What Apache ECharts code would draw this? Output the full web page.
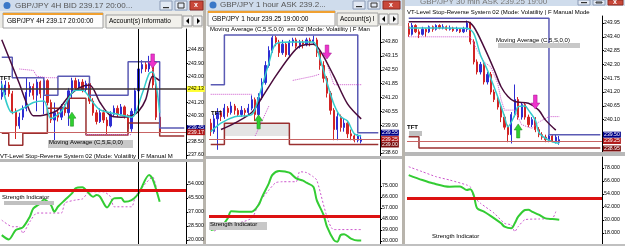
<!DOCTYPE html>
<html>
<head>
<meta charset="utf-8">
<script src="https://cdn.jsdelivr.net/npm/echarts@6/dist/echarts.min.js"></script>
<style>
html,body{margin:0;padding:0;background:#d4d0c8;}
#chart{width:625px;height:246px;}
</style>
</head>
<body>
<div id="chart"></div>
<script>
// ---- panel 1 : GBP/JPY 4H ----
var p1Cats = Array.from({length: 53}, function (_, i) { return i; });
var p1Candles = [
  [241.6,241.9,241.4,242.7],[241.9,242.4,241.7,242.7],[242.4,241.8,241.6,242.6],[241.8,240.6,240.4,242.0],
  [240.6,239.6,238.7,240.8],[239.6,240.2,239.4,240.5],[240.2,240.8,240.0,241.0],[240.8,241.9,240.6,242.9],
  [241.9,242.3,241.6,242.6],[242.3,241.7,241.4,242.5],[241.7,242.6,240.6,242.8],[242.6,241.8,241.5,242.7],
  [241.8,242.7,240.4,242.9],[242.7,241.2,241.0,242.8],[241.2,240.0,239.8,241.4],[240.0,240.5,238.5,241.2],
  [240.5,240.2,239.9,240.8],[240.2,240.9,240.0,241.1],[240.9,240.5,240.3,241.1],[240.5,242.0,239.6,242.2],
  [242.0,242.7,241.5,242.9],[242.7,242.2,242.0,242.9],[242.2,242.6,242.0,242.8],[242.6,242.1,241.9,242.8],
  [242.1,242.5,241.9,242.7],[242.5,241.3,241.1,242.6],[241.3,240.5,240.3,241.5],[240.5,239.9,239.7,240.7],
  [239.9,240.5,239.8,240.8],[240.5,240.0,239.8,240.7],[240.0,239.6,239.0,240.2],[239.6,240.4,239.5,240.6],
  [240.4,240.8,240.2,241.0],[240.8,240.4,240.2,241.0],[240.4,240.9,240.3,241.1],[240.9,240.3,240.1,241.0],
  [240.3,239.4,239.1,240.4],[239.4,240.6,239.2,240.8],[240.6,242.0,240.4,242.2],[242.0,243.5,241.8,243.7],
  [243.5,243.8,243.2,244.1],[243.8,243.5,243.3,244.0],[243.5,244.0,243.3,244.4],[244.0,242.4,242.2,244.1],
  [242.4,240.2,240.0,242.6],[240.2,239.17,239.0,240.4]
];
var p1FastMA = [[0,242.5],[3,240.5],[6,240.8],[9,241.2],[12,241.3],[14,240.1],[17,240.6],[21,242.05],[23,242.05],
  [26,241.2],[28,240.7],[31,240.5],[33,240.4],[37,240.2],[40,241.8],[42,243.2],[43,243.3],[45,240.5]];
var p1SlowMA = [[0,245.5],[5,242.5],[7,241.2],[9,240.3],[11,240.3],[13,240.4],[16,240.7],[19,241.6],[22,242.2],
  [25,242.4],[28,241.2],[31,240.3],[34,240.2],[37,240.3],[39,240.6],[41,241.4],[43,243.0],[45,242.7]];
var p1Trail = [[5,243.5],[9,243.4],[10,243.0],[13,242.9],[16,242.9],[17,'-'],[24,239.0],[37,239.0],[38,'-'],
  [42,244.0],[43,243.5],[44,242.3]];
var p1UpperStop = [[0,244.3],[3,242.9],[12,241.7],[16,243.0],[25,241.7],[36,244.0],[45,239.45],[52,239.45]];
var p1LowerStop = [[0,239.1],[2,238.27],[6,239.1],[13,240.8],[19,241.5],[24,238.97],[36,239.8],[45,238.9],[52,238.9]];
var p1Strength = [[0,23],[2,20.4],[4,26.1],[6,27.7],[8,34.2],[9,39.2],[11,42.3],[12,44.7],[14,41.3],[15,37.2],
  [16,40.2],[18,44.3],[20,48.3],[21,51.4],[23,52],[24,50.4],[26,46.3],[27,47.3],[28,46.3],[30,39.8],[32,45.3],
  [34,45.5],[35,43.3],[37,44.3],[39,48.3],[42,59.5],[43,57],[45,43.3]];
var p1Signal = [[0,32.1],[3,28.1],[5,28.1],[6,24.2],[8,31.1],[10,36.4],[14,36.4],[17,36.4],[18,42.5],[21,44.3],
  [23,45],[25,49.3],[29,49.3],[31,46.3],[32,40.2],[37,40.2],[38,46.3],[39,49.3],[41,54.4],[43,58.4],[44,52.4]];
var p1PriceTicks = [237.6, 238.5, 240.3, 241.2, 243.0, 243.9, 244.8];
var p1StrengthTicks = [20, 28.5, 37, 45.5, 54];
var p1Tags = [242.13, 239.45, 239.17];
var p1Buy = [20, 240.06], p1Sell = [43, 244.05];
var p1Cursor = 39;

// ---- panel 2 : GBP/JPY 1 hour ----
var p2Cats = Array.from({length: 50}, function (_, i) { return i; });
var p2Candles = [
  [240.0,239.6,239.4,240.2],[239.6,240.2,239.5,240.4],[240.2,240.5,238.75,240.7],[240.5,240.3,240.1,240.6],
  [240.3,240.7,240.2,240.9],[240.7,240.5,240.3,240.8],[240.5,240.8,240.4,241.0],[240.8,240.6,240.4,240.9],
  [240.6,240.4,240.3,240.7],[240.4,240.6,240.3,240.8],[240.6,240.5,240.3,240.7],[240.5,240.7,240.4,240.9],
  [240.7,241.1,240.6,241.3],[241.1,240.4,240.1,241.2],[240.4,241.2,240.3,241.4],[241.2,241.9,241.1,242.1],
  [241.9,242.7,241.8,242.9],[242.7,243.4,242.6,243.6],[243.4,244.0,243.3,244.1],[244.0,243.8,243.6,244.1],
  [243.8,243.3,243.1,243.9],[243.3,243.7,243.2,243.9],[243.7,243.2,243.1,243.8],[243.2,243.8,243.1,243.9],
  [243.8,243.9,243.6,244.0],[243.9,243.6,243.5,244.0],[243.6,243.8,243.5,243.9],[243.8,243.7,243.5,243.9],
  [243.7,243.9,243.6,244.0],[243.9,243.8,243.6,244.0],[243.8,243.9,243.7,244.1],[243.9,243.3,243.1,244.0],
  [243.3,242.7,242.5,243.4],[242.7,242.1,241.9,242.9],[242.1,241.4,241.2,242.2],[241.4,240.6,240.4,241.5],
  [240.6,239.7,239.2,240.7],[239.7,240.3,239.2,240.5],[240.3,239.8,239.6,240.4],[239.8,240.0,239.6,240.2],
  [240.0,239.5,239.3,240.1],[239.5,239.4,239.2,239.7],[239.4,239.2,239.1,239.5],[239.2,239.4,239.1,239.5],
  [239.15,239.25,239.05,239.45]
];
var p2FastMA = [[0,239.6],[3,240.0],[7,240.3],[12,240.4],[14,241.2],[17,242.8],[19,243.7],[23,243.8],[27,243.8],
  [30,243.8],[32,243.0],[34,241.9],[36,240.9],[38,240.3],[40,240.1],[42,239.5],[44,239.4]];
var p2SlowMA = [[3,239.7],[7,240.0],[12,240.5],[15,241.2],[19,242.2],[23,243.1],[26,243.6],[30,243.7],[32,243.4],
  [36,242.2],[40,240.9],[44,240.2]];
var p2Trail = [[0,241.35],[12,241.35],[12.5,'-'],[13,239.4],[17,240.8],[18,'-'],[24,242.0],[27,242.1],[30,242.2],
  [32,242.3],[32.5,'-'],[33,243.3],[36,241.8],[44,241.8]];
var p2UpperStop = [[0,241.8],[4,244.13],[43,239.55],[49,239.55]];
var p2LowerStop = [[0,239.0],[4,240.0],[23,239.0],[49,239.0]];
var p2Box = [[4,240.0],[23,239.4]];
var p2Strength = [[0,39],[3,41.7],[5,48.6],[6,54.3],[9,54],[12,54],[14,59.5],[15,65.9],[17,77.2],[18,84],[20,87.2],
  [23,85.9],[25,81.3],[27,79.4],[28,77.7],[30,74.4],[31,63.5],[33,51.3],[34,41.7],[36,30.8],[37,29.4],[38,34.9],
  [39,35.5],[41,31.9],[43,30.3],[44,30.3]];
var p2Signal = [[1,38.1],[3,40.5],[12,48.6],[14,60.8],[17,71.7],[19,77.7],[21,78.5],[25,78.5],[26,86.7],[28,86],
  [30,82.6],[31,79.9],[36,39.3],[44,39.3]];
var p2PriceTicks = [238.6, 239.9, 240.55, 241.2, 241.85, 242.5, 243.15, 243.8];
var p2StrengthTicks = [30, 39, 48, 57, 66, 75];
var p2Tags = [239.55, 239.25, 239.0];
var p2Buy = [14, 240.06], p2Sell = [34, 243.33];

// ---- panel 3 : GBP/JPY 30 min ----
var p3Cats = Array.from({length: 57}, function (_, i) { return i; });
var p3Candles = [
  [243.8,243.5,243.4,243.95],[243.5,243.85,243.45,243.95],[243.85,243.6,243.55,243.9],[243.6,243.5,243.35,243.7],
  [243.5,243.7,243.45,243.8],[243.7,243.6,243.4,243.75],[243.6,243.8,243.55,243.85],[243.8,243.7,243.6,243.85],
  [243.7,243.85,243.65,243.9],[243.85,243.75,243.7,243.9],[243.75,243.8,243.7,243.9],[243.8,243.7,243.65,243.85],
  [243.7,243.75,243.65,243.85],[243.75,243.65,243.6,243.8],[243.65,243.7,243.6,243.8],[243.7,243.6,243.55,243.75],
  [243.6,243.7,243.55,243.8],[243.7,243.95,243.6,244.05],[243.95,243.2,243.1,244.0],[243.2,242.4,242.3,243.3],
  [242.4,242.0,241.9,242.5],[242.0,242.3,241.9,242.4],[242.3,241.6,241.5,242.4],[241.6,241.9,241.5,242.0],
  [241.9,241.2,241.1,242.0],[241.2,240.9,240.8,241.3],[240.9,240.6,240.5,241.0],[240.6,240.2,240.0,240.7],
  [240.2,239.8,239.7,240.3],[239.8,239.5,239.2,239.9],[239.5,240.3,239.15,240.4],[240.3,240.9,240.2,241.5],
  [240.9,240.2,240.1,241.0],[240.2,240.7,240.1,240.8],[240.7,240.2,240.1,240.8],[240.2,239.9,239.8,240.3],
  [239.9,240.1,239.8,240.2],[240.1,239.7,239.6,240.2],[239.7,239.5,239.4,239.8],[239.5,239.4,239.3,239.6],
  [239.4,239.3,239.2,239.5],[239.3,239.45,239.2,239.5],[239.45,239.25,239.2,239.5],[239.25,239.4,239.15,239.5],
  [239.2,239.3,239.1,239.45]
];
var p3FastMA = [[0,243.75],[10,243.75],[17,243.74],[19,243.54],[21,242.67],[23,242.08],[26,241.02],[28,240.22],
  [29,239.82],[31,240.28],[32,240.62],[34,240.64],[35,240.48],[37,240.08],[38,239.6],[40,239.35],[42,239.22],[44,239.15]];
var p3SlowMA = [[0,244.0],[17,244.0],[19,243.8],[22,243.0],[25,242.08],[27,241.41],[29,241.02],[31,240.82],
  [35,240.75],[38,240.48],[40,240.08],[43,239.68]];
var p3Trail = [[0,243.4],[18,243.4],[20,242.87],[22,242.4],[24,242.2],[26,241.55],[27,240.9],[28,240.48],
  [31,240.48],[33,239.9],[36,239.75],[38,240.0],[41,240.22],[44,240.22]];
var p3UpperStop = [[0,244.14],[41,239.5],[56,239.5]];
var p3LowerStop = [[0,239.42],[3,238.97],[56,238.97]];
var p3Strength = [[0,71.5],[4,66.9],[7,63.9],[12,60.7],[15,61],[17,57.7],[18,58.5],[19,53],[20,40.8],[22,37.7],
  [25,31.5],[27,26.9],[28,23.8],[30,22.3],[31,26.9],[32,33],[34,39.2],[35,39.5],[36,37.7],[38,34.9],[40,31.5],
  [42,30.9],[44,30.3]];
var p3Signal = [[0,79.2],[4,74.6],[8,70],[12,66.9],[17,62.3],[18,60.7],[19,51.5],[21,45.4],[25,36.2],[28,26.9],
  [30,25.4],[31,19.2],[32,23.8],[34,30.3],[38,30.9],[42,31.5],[43,37.7]];
var p3PriceTicks = [240.1, 240.65, 241.2, 241.75, 242.3, 242.85, 243.4, 243.95];
var p3StrengthTicks = [18, 30, 42, 54, 66, 78];
var p3Tags = [239.5, 239.25, 238.95];
var p3Buy = [32, 239.65], p3Sell = [37, 240.8];

var strengthLevel = 50;

// ---- drawing ----
var FONT = '"Liberation Sans", Arial, sans-serif';
var BULL = '#2d2dd2', BEAR = '#d22424';
var UP_ARROW = 'path://M5,0 L10,6 L7,6 L7,14 L3,14 L3,6 L0,6 Z';
var DOWN_ARROW = 'path://M3,0 L7,0 L7,8 L10,8 L5,14 L0,8 L3,8 Z';

var grids = [
  {left: 0, top: 29, width: 186, height: 130},
  {left: 0, top: 162, width: 186, height: 82},
  {left: 209, top: 26, width: 171, height: 130},
  {left: 209, top: 160, width: 171, height: 84},
  {left: 407, top: 16, width: 195, height: 136},
  {left: 407, top: 157, width: 195, height: 87}
];
grids.forEach(function (g) { g.containLabel = false; g.outerBoundsMode = 'none'; });

function xAx(g, cats) {
  return {type: 'category', gridIndex: g, data: cats, show: false, boundaryGap: true};
}
function yAx(g, min, max, ticks, dec) {
  return {
    type: 'value', gridIndex: g, position: 'right', min: min, max: max,
    splitLine: {show: false},
    axisLine: {show: true, lineStyle: {color: '#000', width: 1}},
    axisTick: {show: true, length: 2, customValues: ticks, lineStyle: {color: '#000'}},
    axisLabel: {customValues: ticks, fontSize: 5.2, margin: 2, color: '#000', fontFamily: FONT,
      formatter: function (v) { return v.toFixed(dec); }}
  };
}
function tag(v, bg, fg, line, lw) {
  return {yAxis: v, lineStyle: {color: line || 'rgba(0,0,0,0)', width: lw || 1, type: 'solid'},
    label: {show: true, position: 'end', distance: 1, formatter: v.toFixed(2), backgroundColor: bg, color: fg,
      fontSize: 5.2, fontFamily: FONT, padding: [1, 1, 0, 1]}};
}
function candles(g, data, tags, buy, sell, extra) {
  return {
    type: 'candlestick', xAxisIndex: g, yAxisIndex: g, data: data, barMaxWidth: 2.2,
    itemStyle: {color: BULL, color0: BEAR, borderColor: BULL, borderColor0: BEAR, borderWidth: 1},
    markLine: {silent: true, symbol: 'none', animation: false, data: tags.concat(extra || [])},
    markPoint: {silent: true, animation: false, label: {show: false}, data: [
      {coord: buy, symbol: UP_ARROW, symbolSize: [8, 14], itemStyle: {color: '#2fd02f', borderColor: '#1a8a1a', borderWidth: 0.5}},
      {coord: sell, symbol: DOWN_ARROW, symbolSize: [9, 14], itemStyle: {color: '#ee33cc', borderColor: '#a01890', borderWidth: 0.5}}
    ]}
  };
}
function line(g, data, color, width, type, opts) {
  var s = {type: 'line', xAxisIndex: g, yAxisIndex: g, data: data, symbol: 'none', silent: true,
    lineStyle: {color: color, width: width, type: type || 'solid'}, z: 3};
  for (var k in opts || {}) s[k] = opts[k];
  return s;
}
function levelLine(extra) {
  return {silent: true, symbol: 'none', animation: false, label: {show: false},
    data: [{yAxis: strengthLevel, lineStyle: {color: '#dd1111', width: 3, type: 'solid'}}].concat(extra || [])};
}
var cursorLine = {xAxis: p1Cursor, lineStyle: {color: '#000', width: 1, type: 'solid'}, label: {show: false}};

function mainSeries(g, d) {
  return [
    line(g, d.lower, '#9a3030', 1.5, 'solid', {step: 'end', markArea: d.box ? {silent: true, itemStyle: {color: '#e4e4e4'},
      data: [[{coord: d.box[0]}, {coord: d.box[1]}]]} : undefined}),
    line(g, d.upper, '#5a5ab4', 1.5, 'solid', {step: 'end'}),
    candles(g, d.candles, d.tags, d.buy, d.sell, d.extra),
    line(g, d.trail, '#cc55cc', 1, 'dotted'),
    line(g, d.slow, '#4a0c3c', 1.5, 'solid', {smooth: 0.3}),
    line(g, d.fast, '#33cccc', 1.5, 'solid', {smooth: 0.3})
  ];
}
function subSeries(g, strength, signal, extra) {
  return [
    line(g, signal, '#cc55cc', 1, [2, 2], {smooth: 0.2}),
    line(g, strength, '#33cc33', 2, 'solid', {smooth: 0.3, markLine: levelLine(extra)})
  ];
}

var series = [].concat(
  mainSeries(0, {candles: p1Candles, fast: p1FastMA, slow: p1SlowMA, trail: p1Trail, upper: p1UpperStop,
    lower: p1LowerStop, buy: p1Buy, sell: p1Sell, extra: [cursorLine],
    tags: [tag(p1Tags[0], '#ffff33', '#000', '#3c3232', 1.5), tag(p1Tags[1], '#000088', '#fff'),
           tag(p1Tags[2], '#b01818', '#fff', '#c86464', 1)]}),
  subSeries(1, p1Strength, p1Signal, [cursorLine]),
  mainSeries(2, {candles: p2Candles, fast: p2FastMA, slow: p2SlowMA, trail: p2Trail, upper: p2UpperStop,
    lower: p2LowerStop, box: p2Box, buy: p2Buy, sell: p2Sell,
    tags: [tag(p2Tags[0], '#000088', '#fff'), tag(p2Tags[1], '#b01818', '#fff', '#c86464', 1),
           tag(p2Tags[2], '#7a1010', '#fff')]}),
  subSeries(3, p2Strength, p2Signal),
  mainSeries(4, {candles: p3Candles, fast: p3FastMA, slow: p3SlowMA, trail: p3Trail, upper: p3UpperStop,
    lower: p3LowerStop, buy: p3Buy, sell: p3Sell,
    tags: [tag(p3Tags[0], '#000088', '#fff'), tag(p3Tags[1], '#b01818', '#fff', '#c86464', 1),
           tag(p3Tags[2], '#7a1010', '#fff')]}),
  subSeries(5, p3Strength, p3Signal)
);

// ---- window chrome ----
function rect(x, y, w, h, fill, stroke, z) {
  return {type: 'rect', shape: {x: x, y: y, width: w, height: h}, silent: true, z: z == null ? -10 : z,
    style: {fill: fill, stroke: stroke || null, lineWidth: stroke ? 1 : 0}};
}
function text(x, y, s, size, color, weight, z) {
  return {type: 'text', x: x, y: y, silent: true, z: z == null ? 60 : z,
    style: {text: s, fill: color || '#000', font: (weight || 'normal') + ' ' + size + 'px ' + FONT,
      verticalAlign: 'middle', textVerticalAlign: 'middle'}};
}
function tri(x, y, dir) {
  var pts = dir < 0 ? [[x + 5, y], [x + 5, y + 6], [x + 2, y + 3]] : [[x + 3, y], [x + 3, y + 6], [x + 6, y + 3]];
  return {type: 'polygon', shape: {points: pts}, style: {fill: '#000'}, silent: true, z: 5};
}
function buttons(x, y, h, wClose) {
  return [
    rect(x, y, 12, h, '#e3e9f3', '#8a9ab5', 1), rect(x + 3, y + h - 3, 6, 1.2, '#333', null, 2),
    rect(x + 15, y, 12, h, '#e3e9f3', '#8a9ab5', 1), rect(x + 18, y + 2, 6, h - 4, null, '#333', 2),
    rect(x + 30, y, wClose, h, '#c9483a', '#8e2a20', 1), text(x + 30 + wClose / 2 - 2.5, y + h / 2, 'x', 7, '#fff', 'bold', 2)
  ];
}

var chrome = [
  // chart backgrounds
  rect(0, 28, 203, 216, '#ffffff'),
  rect(206, 26, 196, 218, '#ffffff'),
  rect(405, 6, 220, 238, '#ffffff'),
  rect(203, 0, 3, 246, '#b8b4ac'), rect(402, 0, 3, 246, '#b8b4ac'),
  // indicator separators
  rect(0, 159, 203, 3, '#b8b8b8', null, 5),
  rect(206, 156, 196, 3, '#b8b8b8', null, 5),
  rect(405, 152, 220, 4, '#b8b8b8', null, 5),
  rect(0, 244, 625, 2, '#c0c0c0', null, 5),
  // title bars
  rect(0, 0, 203, 11, '#cfdcec'), {type: 'circle', shape: {cx: 7, cy: 5.5, r: 3.5}, style: {fill: '#3a78c8'}, silent: true, z: 1},
  text(15, 5.5, 'GBP/JPY 4H BID 239.17 20:00...', 8, '#555'),
  rect(206, 0, 196, 10, '#cfdcec'), {type: 'circle', shape: {cx: 213, cy: 5, r: 3.5}, style: {fill: '#3a78c8'}, silent: true, z: 1},
  text(220, 5, 'GBP/JPY 1 hour ASK 239.2...', 8, '#555'),
  rect(405, 0, 220, 6, '#cfdcec'),
  text(420, 1.5, 'GBP/JPY 30 min ASK 239.25 19:00', 8, '#777'),
  // tab bars
  rect(0, 11, 203, 17, '#ecebe6'),
  rect(3, 13, 100, 15, '#fdfdfd', '#a0a0a0', 1), rect(3, 13, 100, 2, '#f0a030', null, 2),
  text(7, 21, 'GBP/JPY 4H 239.17 20:00:00', 6.5, '#000'),
  rect(106, 15, 76, 13, '#f2f1ec', '#a0a0a0', 1),
  text(109, 21.5, 'Account(s) Informatio', 6.5, '#000'),
  rect(183, 16, 9, 10, '#f4f4f4', '#999', 1), tri(184, 18, -1),
  rect(193, 16, 9, 10, '#f4f4f4', '#999', 1), tri(194, 18, 1),
  rect(206, 10, 196, 16, '#ecebe6'),
  rect(208, 11, 127, 15, '#fdfdfd', '#a0a0a0', 1), rect(208, 11, 127, 2, '#f0a030', null, 2),
  text(212, 19, 'GBP/JPY 1 hour 239.25 19:00:00', 6.5, '#000'),
  rect(337, 13, 41, 13, '#f2f1ec', '#a0a0a0', 1),
  text(340, 19.5, 'Account(s) I', 6.5, '#000'),
  rect(379, 14, 9, 10, '#f4f4f4', '#999', 1), tri(380, 16, -1),
  rect(389, 14, 9, 10, '#f4f4f4', '#999', 1), tri(390, 16, 1),
  // chart object labels
  text(0, 78, 'TFT', 6, '#000', 'bold'),
  rect(48, 140, 85, 8, '#c8c8c8', null, 40),
  text(49, 142, 'Moving Average (C,5,E,0,0)', 6),
  text(0, 156.5, 'VT-Level Stop-Reverse System 02 (Mode: Volatility | F Manual M', 6),
  rect(4, 201, 50, 4, '#c0c0c0', null, 40),
  text(2, 197, 'Strength Indicator', 6),
  text(210, 29.5, 'Moving Average (C,5,S,0,0)  em 02 (Mode: Volatility | F Man', 6),
  text(211, 113, 'TFT', 6, '#000', 'bold'),
  rect(209, 222, 58, 8, '#c8c8c8', null, 40),
  text(210, 224, 'Strength Indicator', 6),
  text(407, 12, 'VT-Level Stop-Reverse System 02 (Mode: Volatility | F Manual Mode', 6),
  rect(498, 43, 82, 5, '#c8c8c8', null, 40),
  text(496, 40.5, 'Moving Average (C,5,S,0,0)', 6),
  text(407, 127, 'TFT', 6, '#000', 'bold'),
  rect(409, 131, 13, 5, '#c0c0c0', null, 40),
  text(432, 236, 'Strength Indicator', 6)
].concat(buttons(160, 1, 9, 13), buttons(353, 1, 8, 17), buttons(578, 0, 5, 15));

var chart = echarts.init(document.getElementById('chart'));
chart.setOption({
  backgroundColor: '#d4d0c8',
  animation: false,
  grid: grids,
  xAxis: [xAx(0, p1Cats), xAx(1, p1Cats), xAx(2, p2Cats), xAx(3, p2Cats), xAx(4, p3Cats), xAx(5, p3Cats)],
  yAxis: [
    yAx(0, 237.33, 246.24, p1PriceTicks, 2), yAx(1, 17.6, 67.4, p1StrengthTicks, 3),
    yAx(2, 238.46, 244.55, p2PriceTicks, 2), yAx(3, 27.5, 96.3, p2StrengthTicks, 3),
    yAx(4, 238.81, 244.23, p3PriceTicks, 2), yAx(5, 7.8, 88.2, p3StrengthTicks, 3)
  ],
  series: series,
  graphic: {elements: chrome}
});
</script>
</body>
</html>
